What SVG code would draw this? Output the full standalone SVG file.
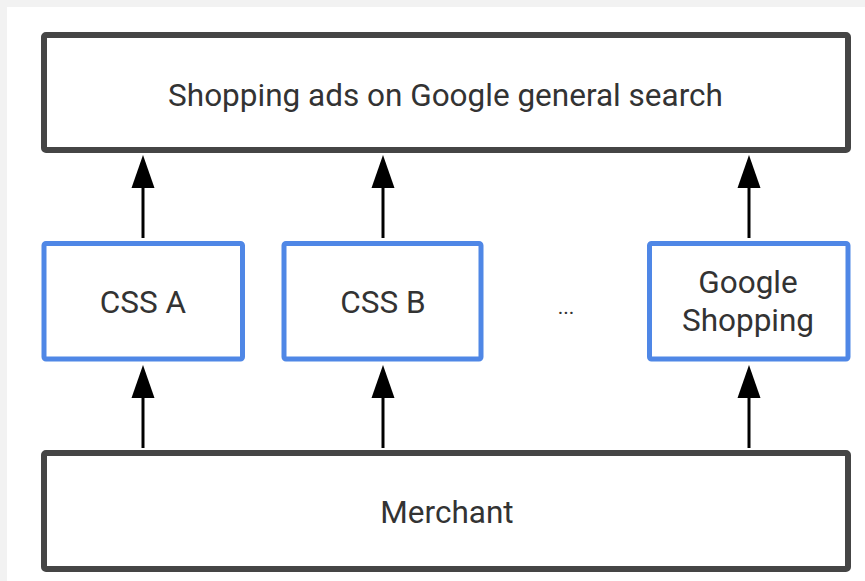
<svg xmlns="http://www.w3.org/2000/svg" width="865" height="581" viewBox="0 0 865 581">
<defs>
<style>
.gray{fill:#fff;stroke:#454545;stroke-width:6;}
.blue{fill:#fff;stroke:#4f87e6;stroke-width:5;}
.t{font-family:Roboto,"Liberation Sans",sans-serif;font-size:31.5px;fill:#333;text-anchor:middle;}
.ln{stroke:#000;stroke-width:3;}
.hd{fill:#000;}
</style>
</defs>
<rect x="0" y="0" width="865" height="581" fill="#f2f2f2"/>
<rect x="7" y="7" width="858" height="574" fill="#fff"/>
<g id="connectors">
<line class="ln" x1="143" y1="238" x2="143" y2="170"/>
<path class="hd" d="M143 155 L154.5 188 L131.5 188 Z"/>
<line class="ln" x1="383" y1="238" x2="383" y2="170"/>
<path class="hd" d="M383 155 L394.5 188 L371.5 188 Z"/>
<line class="ln" x1="749" y1="238" x2="749" y2="170"/>
<path class="hd" d="M749 155 L760.5 188 L737.5 188 Z"/>
<line class="ln" x1="143" y1="448" x2="143" y2="380"/>
<path class="hd" d="M143 365 L154.5 398 L131.5 398 Z"/>
<line class="ln" x1="383" y1="448" x2="383" y2="380"/>
<path class="hd" d="M383 365 L394.5 398 L371.5 398 Z"/>
<line class="ln" x1="749" y1="448" x2="749" y2="380"/>
<path class="hd" d="M749 365 L760.5 398 L737.5 398 Z"/>
</g>
<g id="top">
<rect class="gray" x="44" y="35" width="804" height="115" rx="2"/>
<text class="t" x="445.5" y="106">Shopping ads on Google general search</text>
</g>
<g id="cssA">
<rect class="blue" x="44" y="243.5" width="198.5" height="115.5" rx="2"/>
<text class="t" x="143" y="313">CSS A</text>
</g>
<g id="cssB">
<rect class="blue" x="284" y="243.5" width="197" height="115.5" rx="2"/>
<text class="t" x="383" y="313">CSS B</text>
</g>
<g id="ellipsis">
<text class="t" x="566" y="314" style="font-size:21px">...</text>
</g>
<g id="googleShopping">
<rect class="blue" x="649.5" y="243.5" width="198.5" height="115.5" rx="2"/>
<text class="t" x="748" y="293">Google</text>
<text class="t" x="748" y="331">Shopping</text>
</g>
<g id="merchant">
<rect class="gray" x="44" y="453" width="804" height="116" rx="2"/>
<text class="t" x="447" y="523">Merchant</text>
</g>
</svg>
